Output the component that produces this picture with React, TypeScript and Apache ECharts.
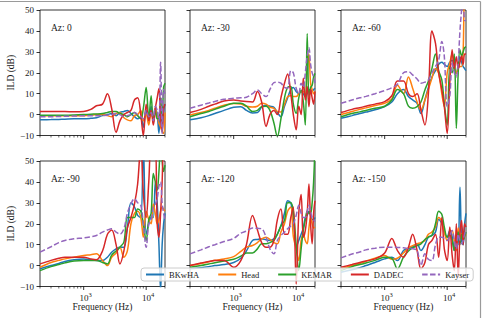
import React, { useEffect, useRef } from 'react';
import * as echarts from 'echarts';

// Shared frequency grid (Hz) for every ILD curve
const FREQ = [200, 300, 400, 500, 700, 1000, 1300, 1600, 2000, 2400, 2800, 3300, 3800, 4400, 5000, 5700, 6500, 7300, 8200, 9000, 10000, 11000, 12000, 13000, 14000, 15000, 16000, 17000, 18000, 19000, 20000];

const SYSTEMS = ['BKwHA', 'Head', 'KEMAR', 'DADEC', 'Kayser'];
const COLORS = ['#1f77b4', '#ff7f0e', '#2ca02c', '#d62728', '#9467bd'];
const AZIMUTHS = [0, -30, -60, -90, -120, -150];

const Y_TICKS = [-10, 0, 10, 20, 30, 40, 50];
const X_MAJOR = [1000, 10000];
const X_MAJOR_LABELS = ['{b|10}{s|3}', '{b|10}{s|4}'];
const X_MINOR = [200, 300, 400, 500, 600, 700, 800, 900, 2000, 3000, 4000, 5000, 6000, 7000, 8000, 9000, 20000];

// ILD (dB), azimuth 0
const bkwhaAz0 = [-2.5, -2.4, -2.3, -2.2, -2, -2, -1.8, -1.5, -0.5, 0, 0.5, -0.5, 1, 1.5, 2, 0.5, -1, -2, -1, -6, 2, -3, 4, -2, 3, 0, -9, 4, -8, 2, 5];
const headAz0 = [-0.5, -0.5, -0.5, -0.5, -0.5, -0.5, -0.3, 0, 0, -0.5, -1, 0.5, 1, -1.5, -2.5, -3, -0.5, 0, 2, -3, 0, -5, 1, -2, 3, -1, -4, -6, -8, -9, 1];
const kemarAz0 = [-0.3, -0.3, -0.3, -0.3, -0.2, 0, 0.2, 0.3, 0.5, 1, 1.5, 1.5, 0.5, 0, -1, 0, 1, -0.5, -2, 3, 13, -2, 9, -4, 2, -2, -2, 8, -3, 13, 15];
const dadecAz0 = [1.5, 1.5, 1.5, 1.5, 1.3, 1.5, 2.5, 4.2, 5, 10, 3, -8.5, -3, 0, 1, 2, 7, 8, 0, -10, 5, -3, 2, -5, 3, 8, 12.5, -2, -8, 3, 5];
const kayserAz0 = [-1, -1, -0.9, -0.8, -0.7, -0.5, -0.5, -0.5, -0.5, -0.3, 0, 0.5, 0, -1, -0.5, 0, 1, 0, -1, -2, 2, -1, 1, -3, 4, 2, -3, 25, -9, 12, 10];

// ILD (dB), azimuth -30
const bkwhaAz30 = [-2.5, -1.5, -0.5, 0.5, 2, 3.5, 3.8, 2, 0.8, 1, 3.5, 4.5, 4, 3.5, 1, -1, 4, 8, 12, 13, 11, 10, 11, 10, 8.6, 10, 11.8, 12, 11, 12, 12.6];
const headAz30 = [-0.2, 1, 2, 3, 4.5, 5.3, 5, 4, 3.6, 4, 5.4, 5, 3.5, 3, 1.5, 1.2, 5, 8.6, 9, 8.6, 8.6, 10, 11, 11, 9, 20, 29, 15, 12, 10, 11];
const kemarAz30 = [-1, 0.5, 1.5, 2.5, 4, 5.4, 5.4, 4, 1.5, 2, 3.8, 4, 2, -4, -10.5, -2, 8, 13, 13.4, 5, 0.6, 8, 11.8, 6, -5, 38.8, 8.6, 13, 14, 18, 19.7];
const dadecAz30 = [1, 2.5, 4, 5, 6.5, 7, 6.5, 6.2, 6, 11, 6, -5.7, 0, 2, 0, 8, 15, 19.4, 10, 0, -7.3, 4, 0, 17.4, 7, 13.4, 3.8, 12, 8, 5, 11];
const kayserAz30 = [3, 4.5, 5.5, 6.3, 7.3, 7.8, 8, 8.3, 10, 11.8, 10, 8.6, 12, 15.3, 15.5, 15, 13, 12.6, 21, 20, 12.6, 10, 15, 13, 20, 28, 32, 24, 20, 18, 15];

// ILD (dB), azimuth -60
const bkwhaAz60 = [-1.8, -0.5, 0.5, 1.2, 2.3, 3.8, 6, 10, 12, 8.6, 7, 5.4, 0.5, 7, 13, 18, 21, 24, 25, 24, 23, 25, 26, 22, 19.7, 24, 27.7, 25, 23, 22, 21];
const headAz60 = [0, 1.5, 2.5, 3.2, 4.3, 5.4, 7.5, 14, 10, 18, 12.6, 6, 2.2, 7, 12, 17.4, 22, 19.7, 10, 3.8, 20, 24.5, 29, 24, 19.7, 22, 23, 23, 30, 58, 58];
const kemarAz60 = [-1, 0.5, 1.3, 2, 3, 4, 7, 12, 10, 4, 3, 3.8, 6, 11.8, 16, 22, 29, 21, 16.6, 5, -5, 23, 20, 29, -6.5, 20, 31, 28, 30, 32, 32.5];
const dadecAz60 = [1, 2.5, 3.3, 4, 5, 6.2, 9, 16, 16, 10, 8.6, 10, 2.2, -5, 10, 40, 34, 20, 12, 3.8, -9, 15, 31, 22, 27.7, 22, 25, 28, 24, 29, 29];
const kayserAz60 = [5.4, 7, 8, 8.7, 10, 11.5, 12.8, 14.5, 20, 20.5, 19, 17, 15, 15.5, 16.6, 20, 23, 26, 35, 27.7, 3.8, 8.6, 24.5, 20, 18, 25, 40, 50, 58, 45, 45];

// ILD (dB), azimuth -90
const bkwhaAz90 = [-1.5, 0, 1, 2, 2.8, 3.2, 2.8, 2.4, 2.4, 4, 6.4, 8, 8.8, 8.8, 18, 30, 28, 24, 23, 58, 15, 20, 23, 23, 40, 30, 10, -12, 10, 20, 25];
const headAz90 = [-0.8, 1.5, 2.5, 3.2, 4, 4.8, 5.2, 5.6, 2.4, 0, 4, 6, 8.8, 4, 7, 20, 25, 26, 23, 13.6, 26, 22, 20, 29.5, 25, 20, 22, 26, 28, 27, 26];
const kemarAz90 = [-2.4, -0.5, 0.5, 1.3, 2.2, 2.4, 2.4, 2.4, 1.5, 0.8, 5, 7, 8.8, 11.2, 23, 23, 23, 27, 26, 20, 12, 22, 25, 44, 40, 36, 45, 58, 50, 45, 48];
const dadecAz90 = [0.8, 2.5, 3.5, 4, 4, 4, 3.2, 2.8, 7, 15, 17, 10, 0.8, 7, 18, 23, 29.5, 39, 58, 35, 23, 40, 58, 58, 58, 20, 13.6, 25, 40, 58, 58];
const kayserAz90 = [6.4, 9, 11, 12, 12.8, 13.2, 13.8, 14.4, 16, 17, 17.6, 16, 15, 17.6, 25, 29.5, 32, 30, 28.8, 20, 8.8, 20, 22, 28, 29.5, 32, 38, 40, 30, 25, 22];

// ILD (dB), azimuth -120
const bkwhaAz120 = [-1.5, -1, -0.5, 0, 0.5, 1.5, 3.5, 7, 12, 12.5, 12.8, 12.3, 12, 12.8, 15, 19, 25, 31, 30, 22, 8.8, 12, 15, 18, 23, 24, 26, 24, 22, 22, 23];
const headAz120 = [0, 1, 1.8, 2.5, 3.2, 4.3, 6.8, 8.8, 9.6, 11, 12.8, 13.6, 12.5, 11, 10.4, 16, 20, 26, 28, 14, 8, 2.4, 12, 15, 12, 10.4, 18, 23, 20, 18, 18.4];
const kemarAz120 = [-0.8, 0, 0.8, 1.4, 2.2, 3, 4.5, 6, 6, 8, 10.4, 10.4, 11, 12, 15, 19, 21.6, 30, 30, 26, 10, -2.4, 8, 16.8, 22, 26, 25, 25, 30, 40, 58];
const dadecAz120 = [0, 1.2, 2, 2.4, 2.4, -0.8, 2.4, 10, 24, 17, 11, 8.8, 8.8, 12, 22, 27, 15, 15, 23, 28, -8.8, 25, 34, 13.6, 16.8, 25, 39, 20, 10.4, 25, 31];
const kayserAz120 = [5.6, 7.5, 9, 10, 11.5, 13, 15.5, 16.5, 18, 17.8, 17.6, 13.6, 8, 5.6, 12, 14.4, 16, 17.6, 19, 20, 24, 28.8, 25, 23, 23, 26, 28.8, 26, 23, 22, 21];

// ILD (dB), azimuth -150
const bkwhaAz150 = [-3.2, -2, -1, 0, 1.5, 3.2, 4, 2.4, 7.2, 8, 9, 10.4, 7.2, 10, 13.6, 14.4, 16, 22, 20, 16, 13.6, 16.8, 14, 7.2, 15, 10, 37.4, 12, 10, 20, 25];
const headAz150 = [-1.5, 0, 1, 2, 3.5, 4.8, 3, 3.5, 6, 8.5, 9.5, 10.4, 11, 12, 15, 16, 18.4, 23, 21, 16, 12, 15, 16.8, 12, 7.2, 18, 14, 15, 16, 14, 15];
const kemarAz150 = [-2.4, -0.5, 0.5, 1.2, 2.5, 4, 3.5, -1.6, 4, 7, 8.5, 9.5, 10.4, 12.5, 13.6, 14.5, 20, 26, 24.5, 18.4, 13.6, 15, 12, 7.2, 12, 16, 10, 15, 12, 14, 16];
const dadecAz150 = [-0.8, 0.5, 1.5, 2.2, 3.2, 6, 13, 7.2, 4, 8.8, 15, 7.2, -1.6, 1.5, 10, 12, 15, 4, 23, 8, 2.4, 18.4, 5, -2.4, 20, -5.6, 15, 21.6, 10, 20, 18.4];
const kayserAz150 = [3.7, 5.5, 6.5, 7.5, 8.3, 8.8, 8.8, 8.7, 8.5, 8.2, 8, 7.2, 0, 5.6, 3, 2.4, 10, 13.6, 13.6, 13, 12, 14, 16.8, 12, 8, 15, 12, 10.4, 12, 15, 16.8];

const ILD = [
  [bkwhaAz0, headAz0, kemarAz0, dadecAz0, kayserAz0],
  [bkwhaAz30, headAz30, kemarAz30, dadecAz30, kayserAz30],
  [bkwhaAz60, headAz60, kemarAz60, dadecAz60, kayserAz60],
  [bkwhaAz90, headAz90, kemarAz90, dadecAz90, kayserAz90],
  [bkwhaAz120, headAz120, kemarAz120, dadecAz120, kayserAz120],
  [bkwhaAz150, headAz150, kemarAz150, dadecAz150, kayserAz150],
];

const FONT = '"Liberation Serif", "DejaVu Serif", serif';
const TEXT = '#1a1a1a';
const COL_LEFT = [40, 190, 341];
const ROW_TOP = [10, 161];
const PANEL_W = 125;
const PANEL_H = 125.5;

function buildOption() {
  const grid: any[] = [];
  const xAxis: any[] = [];
  const yAxis: any[] = [];
  const series: any[] = [];
  const graphic: any[] = [];

  AZIMUTHS.forEach((az, i) => {
    const row = Math.floor(i / 3);
    const col = i % 3;
    const left = COL_LEFT[col];
    const top = ROW_TOP[row];

    grid.push({
      left, top, width: PANEL_W, height: PANEL_H,
      show: true, borderColor: '#000', borderWidth: 0.8, backgroundColor: 'transparent',
    });

    xAxis.push({
      type: 'log', logBase: 10, gridIndex: i, min: 200, max: 20000,
      axisLine: { show: false }, axisTick: { show: false }, axisLabel: { show: false },
      splitLine: { show: false },
      name: row === 1 ? 'Frequency (Hz)' : '',
      nameLocation: 'middle', nameGap: 15,
      nameTextStyle: { fontFamily: FONT, fontSize: 9.5, color: TEXT },
    });

    yAxis.push({
      type: 'value', gridIndex: i, min: Y_TICKS[0], max: Y_TICKS[Y_TICKS.length - 1], interval: 10,
      axisLine: { show: false },
      axisTick: { show: true, length: 3.5, lineStyle: { color: '#000', width: 0.8 } },
      axisLabel: {
        show: col === 0, margin: 6, fontFamily: FONT, fontSize: 9, color: TEXT,
        formatter: (v: number) => (v < 0 ? '\u2212' + Math.abs(v) : String(v)),
      },
      splitLine: { show: false },
      name: col === 0 ? 'ILD (dB)' : '',
      nameLocation: 'middle', nameGap: 24,
      nameTextStyle: { fontFamily: FONT, fontSize: 9.5, color: TEXT },
    });

    SYSTEMS.forEach((name, s) => {
      series.push({
        type: 'line', name, xAxisIndex: i, yAxisIndex: i,
        data: FREQ.map((f, k) => [f, ILD[i][s][k]]),
        symbol: 'none', showSymbol: false, smooth: 0.35, clip: true,
        lineStyle: { color: COLORS[s], width: 1.5, type: name === 'Kayser' ? [5.5, 2.4] : 'solid' },
        itemStyle: { color: COLORS[s] },
        emphasis: { disabled: true },
        z: 2 + s * 0.1,
      });
    });

    // log-axis major / minor ticks and decade labels along the bottom spine
    const tickData = [
      ...X_MAJOR.map((f, k) => [f, Y_TICKS[0], 1, k]),
      ...X_MINOR.map((f) => [f, Y_TICKS[0], 0, -1]),
    ];
    series.push({
      type: 'custom', xAxisIndex: i, yAxisIndex: i, silent: true, clip: false, z: 5,
      data: tickData,
      renderItem: (_params: any, api: any) => {
        const major = api.value(2) === 1;
        const p = api.coord([api.value(0), api.value(1)]);
        const children: any[] = [{
          type: 'line',
          shape: { x1: p[0], y1: p[1], x2: p[0], y2: p[1] + (major ? 3.5 : 2) },
          style: { stroke: '#000', lineWidth: major ? 0.8 : 0.6 },
        }];
        if (major && row === 1) {
          children.push({
            type: 'text',
            style: {
              text: X_MAJOR_LABELS[api.value(3)],
              x: p[0] + 2, y: p[1] + 4,
              align: 'center', verticalAlign: 'top',
              fill: TEXT,
              rich: {
                b: { fontFamily: FONT, fontSize: 9, lineHeight: 12, verticalAlign: 'bottom', color: TEXT },
                s: { fontFamily: FONT, fontSize: 6.5, lineHeight: 8, verticalAlign: 'top', color: TEXT },
              },
            },
          });
        }
        return { type: 'group', children };
      },
    });

    graphic.push({
      type: 'text', left: left + 11, top: top + 13,
      style: { text: `Az: ${az}`, fontFamily: FONT, fontSize: 9.5, fill: TEXT },
      silent: true,
    });
  });

  // thin figure frame along the top and right edges
  graphic.push({
    type: 'line', shape: { x1: 0, y1: 1.5, x2: 480.5, y2: 1.5 },
    style: { stroke: '#9a9a9a', lineWidth: 1.2 }, silent: true,
  });
  graphic.push({
    type: 'line', shape: { x1: 480.5, y1: 1.5, x2: 480.5, y2: 318 },
    style: { stroke: '#9a9a9a', lineWidth: 1.2 }, silent: true,
  });

  return {
    animation: false,
    backgroundColor: '#fff',
    grid, xAxis, yAxis, series, graphic,
    legend: {
      data: SYSTEMS, left: 141, top: 268, width: 336, orient: 'horizontal',
      itemWidth: 18, itemHeight: 8, itemGap: 18, padding: [2, 4],
      itemStyle: { opacity: 0 },
      backgroundColor: 'rgba(255,255,255,0.8)', borderColor: '#cccccc', borderWidth: 1, borderRadius: 3,
      textStyle: { fontFamily: FONT, fontSize: 8.5, color: TEXT },
      selectedMode: false, z: 10,
    },
  };
}

export default function App() {
  const ref = useRef<HTMLDivElement>(null);
  useEffect(() => {
    if (!ref.current) return;
    const chart = echarts.init(ref.current, undefined, { renderer: 'svg' });
    chart.setOption(buildOption() as any);
    return () => chart.dispose();
  }, []);
  return (
    <div
      ref={ref}
      style={{ position: 'fixed', left: 0, top: 0, width: 483, height: 318, background: '#fff' }}
    />
  );
}
